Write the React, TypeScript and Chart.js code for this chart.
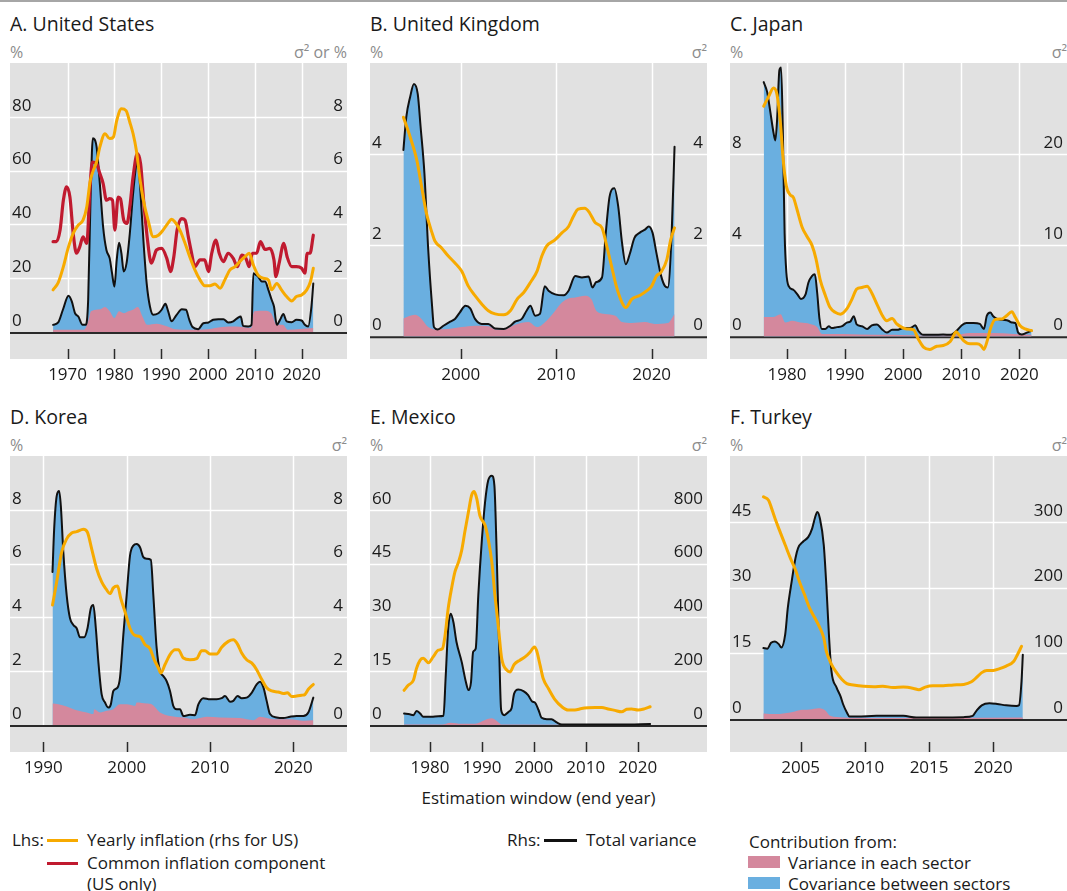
import React, { useEffect, useRef } from 'react';
import { Chart, registerables } from 'chart.js';

Chart.register(...registerables);

type Pt = [number, number];

// ---------- A. United States ----------
const usTotalVariance: Pt[] = [[1966.9,0.27],[1968,0.36],[1969,0.83],[1970.2,1.35],[1970.9,1.14],[1971.6,0.7],[1972.3,0.58],[1973.2,0.27],[1973.9,0.27],[1974.4,1.2],[1974.9,4.9],[1975.4,7.2],[1976.2,6.88],[1976.9,5.5],[1977.6,3.9],[1978.3,3.05],[1979,2.74],[1979.5,2.19],[1980,1.69],[1980.5,2.68],[1981,3.32],[1981.5,2.93],[1982,2.25],[1982.6,2.56],[1983.3,3.67],[1984,5.15],[1984.7,6.26],[1985,6.4],[1985.5,5.4],[1986.2,3.42],[1986.9,1.81],[1987.6,0.95],[1988.3,0.64],[1989.4,0.7],[1990.1,0.83],[1990.9,1.05],[1991.5,0.77],[1992.2,0.4],[1993.3,0.64],[1994.4,0.85],[1995.3,0.83],[1996,0.46],[1996.7,0.19],[1997.9,0.11],[1999,0.33],[2000.1,0.36],[2001.1,0.46],[2002.2,0.48],[2003.3,0.48],[2004.3,0.36],[2005.4,0.4],[2006.3,0.52],[2007,0.58],[2007.5,0.23],[2008.6,0.21],[2009.3,0.27],[2009.7,2.19],[2010,2.15],[2010.7,2.06],[2011.5,1.88],[2012.2,1.88],[2012.9,1.57],[2013.6,1.2],[2014.1,0.95],[2014.7,0.27],[2015.4,0.46],[2016.1,0.67],[2016.8,0.4],[2017.9,0.37],[2018.9,0.46],[2020,0.43],[2020.7,0.27],[2021.4,0.21],[2022.1,0.95],[2022.5,1.81]];
const usSectorVariance: Pt[] = [[1966.9,0.09],[1973.5,0.09],[1974.5,0.46],[1975,0.77],[1977,0.85],[1978,0.93],[1979,0.77],[1980,0.52],[1981,0.77],[1982,0.7],[1983,0.77],[1984,0.83],[1985,0.93],[1986,0.58],[1987,0.27],[1989,0.31],[1991,0.23],[1993,0.11],[1996,0.09],[2000,0.11],[2003,0.19],[2006,0.21],[2009.2,0.15],[2009.7,0.7],[2010,0.77],[2012,0.79],[2013.5,0.7],[2014.7,0.27],[2016,0.27],[2017,0.09],[2022.5,0.15]];
const usYearlyInflation: Pt[] = [[1966.9,1.57],[1968,1.84],[1969.1,2.43],[1970.1,3.11],[1971.2,3.67],[1972.3,3.98],[1973.3,4.16],[1974.1,4.65],[1974.8,5.58],[1975.5,6.01],[1976.2,6.32],[1976.9,6.88],[1978,7.37],[1979,7.19],[1979.8,7.25],[1980.5,7.86],[1981.5,8.3],[1982.5,8.23],[1983.3,7.8],[1984,7.37],[1984.7,6.75],[1985.5,5.64],[1986.2,4.9],[1987.2,4.16],[1988.3,3.54],[1989.4,3.6],[1990.4,3.79],[1991.5,4.06],[1992.2,4.19],[1992.9,4.1],[1994,3.79],[1995.1,3.3],[1996.1,2.8],[1997.2,2.31],[1998.3,1.94],[1999.3,1.72],[2000.4,1.72],[2001.5,1.79],[2002.6,1.63],[2003.6,1.94],[2004.7,2.31],[2005.8,2.43],[2006.8,2.62],[2007.9,2.8],[2008.8,2.93],[2009.7,2.49],[2010.7,2.12],[2011.8,2.0],[2012.9,1.94],[2013.6,1.57],[2014.7,1.81],[2015.7,1.57],[2016.8,1.32],[2017.9,1.16],[2018.9,1.32],[2020,1.38],[2021.1,1.57],[2021.9,1.88],[2022.5,2.37]];
const usCommonComponent: Pt[] = [[1966.9,33.6],[1967.6,33.6],[1968.4,37.9],[1969.1,49],[1969.8,54],[1970.5,50.2],[1971.2,36.7],[1971.9,29.3],[1972.6,31.7],[1973.3,35.4],[1974.1,33],[1974.8,54],[1975.3,63.2],[1976.2,62.6],[1976.9,58.9],[1977.6,55.2],[1978.3,49],[1979,49.6],[1979.6,49],[1980.1,37.9],[1980.8,50.2],[1981.3,49.6],[1982,41.6],[1982.7,40.4],[1983.3,46.5],[1984,57.7],[1984.9,66.3],[1985.6,62.6],[1986.3,47.8],[1987,35.4],[1987.9,25.6],[1989,30.5],[1990.1,31.1],[1991.2,27.4],[1992,22.5],[1992.7,28],[1993.4,37.9],[1994.4,42.2],[1995.1,41.6],[1995.8,35.4],[1996.5,29.3],[1997.2,24.3],[1998.3,26.8],[1999.3,26.8],[2000.1,22.5],[2000.8,29.3],[2001.7,34.2],[2002.4,29.3],[2003.3,26.2],[2004.3,29.3],[2005.4,27.4],[2006.3,24.3],[2007.2,28.6],[2008.1,27.4],[2008.8,24.3],[2009.5,29.3],[2010.4,29.3],[2011.2,33.6],[2012.2,30.7],[2013.2,31.1],[2014.1,26.8],[2014.5,20.6],[2015.2,25.6],[2016.2,33],[2016.9,28],[2017.9,24.3],[2018.9,24.3],[2020,23.7],[2020.7,21.9],[2021.2,29.3],[2021.8,29.3],[2022.5,36]];
const usYears = [1970, 1980, 1990, 2000, 2010, 2020];
const usLeftTicks = [0, 20, 40, 60, 80];
const usRightTicks = [0, 2, 4, 6, 8];

// ---------- B. United Kingdom ----------
const ukTotalVariance: Pt[] = [[1994,4.09],[1994.3,4.81],[1994.7,5.25],[1995.1,5.54],[1995.5,5.32],[1995.8,4.6],[1996.2,3.58],[1996.6,1.9],[1997,0.67],[1997.2,0.2],[1997.6,0.15],[1998.2,0.23],[1998.9,0.32],[1999.4,0.38],[1999.9,0.52],[2000.5,0.67],[2001,0.61],[2001.5,0.38],[2002.2,0.27],[2002.9,0.27],[2003.6,0.17],[2004.5,0.16],[2005.2,0.23],[2005.7,0.32],[2006.4,0.38],[2006.9,0.56],[2007.3,0.67],[2007.8,0.45],[2008.3,0.49],[2008.8,1.1],[2009.2,1.0],[2009.9,0.92],[2010.8,0.9],[2011.3,1.0],[2012,1.32],[2012.7,1.29],[2013.4,1.31],[2013.8,1.07],[2014.2,1.19],[2014.8,1.29],[2015.2,2.27],[2015.6,3.07],[2016.1,3.25],[2016.5,2.85],[2016.9,2.05],[2017.3,1.58],[2017.7,1.8],[2018.2,2.16],[2018.8,2.28],[2019.3,2.34],[2019.7,2.41],[2020.1,2.27],[2020.5,1.83],[2021,1.32],[2021.4,1.1],[2021.7,1.07],[2022.1,2.27],[2022.4,4.16]];
const ukSectorVariance: Pt[] = [[1994,0.39],[1995.2,0.47],[1995.9,0.38],[1996.6,0.2],[1997.3,0.15],[1998.7,0.16],[2000.1,0.2],[2001.5,0.23],[2002.9,0.22],[2003.6,0.15],[2004.5,0.14],[2005.2,0.2],[2005.7,0.25],[2007.1,0.31],[2008,0.2],[2009,0.34],[2009.9,0.56],[2010.6,0.74],[2011.3,0.83],[2012,0.85],[2013,0.89],[2013.7,0.81],[2014.2,0.56],[2015.1,0.49],[2016.2,0.45],[2016.9,0.31],[2017.9,0.29],[2019.3,0.31],[2020.3,0.27],[2021.7,0.29],[2022.4,0.49]];
const ukYearlyInflation: Pt[] = [[1994,4.81],[1994.7,4.38],[1995.4,3.87],[1995.9,3.29],[1996.4,2.71],[1997,2.27],[1997.3,2.09],[1998,1.94],[1998.7,1.76],[1999.4,1.61],[2000.1,1.43],[2000.8,1.1],[2001.5,0.89],[2002.2,0.71],[2002.9,0.56],[2003.6,0.49],[2004.5,0.47],[2005.2,0.56],[2005.9,0.81],[2006.6,0.96],[2007.3,1.18],[2008,1.43],[2008.5,1.76],[2009,1.98],[2009.9,2.12],[2010.6,2.27],[2011.3,2.41],[2011.8,2.63],[2012.3,2.79],[2013,2.81],[2013.5,2.71],[2014.1,2.49],[2014.8,2.38],[2015.3,1.98],[2015.8,1.54],[2016.3,1.1],[2016.9,0.74],[2017.3,0.63],[2017.9,0.81],[2018.8,0.9],[2019.5,1.0],[2020,1.1],[2020.5,1.32],[2021,1.41],[2021.6,1.69],[2022,2.12],[2022.4,2.38]];
const ukYears = [2000, 2010, 2020];
const ukLeftTicks = [0, 2, 4];
const ukRightTicks = [0, 2, 4];

// ---------- C. Japan ----------
const jpTotalVariance: Pt[] = [[1976,27.9],[1976.6,26.8],[1977.1,24.8],[1977.7,22.3],[1978,21.5],[1978.3,23.7],[1978.7,29.2],[1979,29.5],[1979.3,22.3],[1979.6,11.3],[1979.9,7.0],[1980.3,5.5],[1981.1,5.1],[1981.8,4.6],[1982.4,4.1],[1983.2,4.6],[1983.7,5.9],[1984.3,6.6],[1984.8,6.8],[1985.2,4.8],[1985.6,1.9],[1986,0.8],[1986.6,0.8],[1987.2,1.1],[1987.7,0.9],[1988.6,1.0],[1989.5,1.1],[1990.3,1.5],[1990.9,1.6],[1991.5,2.2],[1992,1.3],[1992.9,1.1],[1993.8,0.8],[1994.6,1.2],[1995.5,1.3],[1996.3,0.8],[1997.2,0.4],[1998.1,0.7],[1998.9,0.7],[2000.1,0.9],[2001.2,0.9],[2002.1,1.2],[2002.6,0.6],[2003.5,0.15],[2005.2,0.15],[2006.9,0.2],[2008.1,0.15],[2009.2,0.6],[2010.1,1.2],[2010.9,1.45],[2012.1,1.45],[2013.2,1.35],[2013.9,0.8],[2014.4,2.25],[2015,2.6],[2015.5,2.2],[2016.2,1.9],[2017.2,1.8],[2018.1,1.7],[2018.7,1.5],[2019.3,1.45],[2019.8,0.4],[2020.4,0.2],[2021.3,0.4],[2022.1,0.6]];
const jpSectorVariance: Pt[] = [[1976,2.1],[1977.7,2.1],[1978.9,2.4],[1979.7,1.5],[1980.9,1.7],[1982.3,1.5],[1984,1.35],[1985.2,1.0],[1986,0.25],[1989.7,0.25],[1992.6,0.2],[1998.3,0.15],[2003.5,0.07],[2009.2,0.15],[2011.5,0.36],[2015.5,0.36],[2019,0.25],[2022.1,0.15]];
const jpYearlyInflation: Pt[] = [[1976,10.1],[1976.8,10.5],[1977.7,10.9],[1978.3,10.6],[1978.9,9.3],[1979.3,7.9],[1979.9,6.6],[1980.6,6.2],[1981.1,6.1],[1981.7,5.6],[1982.6,4.8],[1983.4,4.4],[1984.3,4.0],[1985,3.4],[1985.7,2.5],[1986.6,1.8],[1987.4,1.27],[1988.3,1.05],[1989.2,0.97],[1990.3,1.2],[1991.2,1.63],[1992,2.07],[1992.9,2.14],[1993.8,2.2],[1994.6,1.9],[1995.5,1.4],[1996.3,0.97],[1997.2,0.68],[1998.1,0.78],[1998.9,0.54],[1999.8,0.39],[2000.6,0.32],[2001.8,0.28],[2002.6,-0.12],[2003.5,-0.48],[2004.6,-0.58],[2005.8,-0.44],[2006.9,-0.41],[2008.1,-0.23],[2008.7,0.03],[2009.1,0.2],[2009.5,0.1],[2010.4,-0.19],[2011.5,-0.33],[2012.7,-0.33],[2013.4,-0.41],[2013.9,-0.58],[2014.4,-0.26],[2015.1,0.39],[2015.8,0.73],[2017,0.76],[2017.8,0.9],[2018.7,1.08],[2019.3,0.83],[2020.1,0.47],[2021,0.32],[2022.1,0.25]];
const jpYears = [1980, 1990, 2000, 2010, 2020];
const jpLeftTicks = [0, 4, 8];
const jpRightTicks = [0, 10, 20];

// ---------- D. Korea ----------
const krTotalVariance: Pt[] = [[1991.1,5.69],[1991.3,7.29],[1991.6,8.51],[1991.9,8.7],[1992.1,8.15],[1992.4,6.43],[1992.8,4.83],[1993.2,3.97],[1993.6,3.72],[1994,3.6],[1994.4,3.26],[1994.9,3.26],[1995.3,3.6],[1995.7,4.34],[1996,4.46],[1996.3,3.6],[1996.6,2.37],[1997,1.14],[1997.4,0.84],[1997.8,0.65],[1998.1,0.77],[1998.4,1.27],[1998.9,1.39],[1999.2,1.76],[1999.6,3.35],[2000,4.83],[2000.4,6.3],[2000.8,6.67],[2001.2,6.73],[2001.6,6.61],[2002,6.24],[2002.4,6.18],[2002.9,6.14],[2003.2,4.83],[2003.6,2.86],[2004,2.0],[2004.4,1.82],[2004.8,1.63],[2005.2,1.27],[2005.6,0.71],[2006,0.59],[2006.4,0.59],[2006.8,0.34],[2007.6,0.38],[2008.2,0.37],[2008.6,0.77],[2009.2,1.0],[2010,0.96],[2010.8,0.96],[2011.4,1.0],[2011.8,1.08],[2012.4,0.87],[2012.8,0.9],[2013.3,1.08],[2013.8,1.0],[2014.4,1.02],[2015,1.2],[2015.6,1.51],[2016,1.61],[2016.4,1.41],[2016.8,0.9],[2017.2,0.41],[2018,0.28],[2018.8,0.26],[2019.6,0.31],[2020.4,0.34],[2021.2,0.34],[2021.8,0.47],[2022.4,1.02]];
const krSectorVariance: Pt[] = [[1991.1,0.8],[1991.8,0.77],[1992.8,0.69],[1994,0.55],[1995.2,0.47],[1996,0.41],[1996.1,0.59],[1996.8,0.47],[1997.6,0.53],[1998.4,0.59],[1999.2,0.77],[2000,0.77],[2001,0.71],[2001.2,0.84],[2002.4,0.8],[2003,0.77],[2004,0.47],[2005.2,0.34],[2006.8,0.28],[2008,0.22],[2009.6,0.31],[2011.2,0.28],[2013.6,0.26],[2015.2,0.18],[2016,0.31],[2017.6,0.22],[2019.6,0.22],[2021.2,0.16],[2022.4,0.18]];
const krYearlyInflation: Pt[] = [[1991.1,4.46],[1991.6,5.32],[1992.2,6.43],[1992.8,6.92],[1993.4,7.14],[1994,7.19],[1994.8,7.28],[1995.3,7.16],[1995.8,6.55],[1996.4,5.81],[1997,5.32],[1997.5,5.07],[1998,4.89],[1998.4,5.1],[1998.9,5.17],[1999.3,4.7],[1999.8,4.21],[2000.4,3.6],[2001,3.33],[2001.6,3.29],[2002.2,2.99],[2002.8,2.84],[2003.3,2.43],[2003.8,2.13],[2004.1,1.94],[2004.6,2.25],[2005.2,2.62],[2005.8,2.8],[2006.2,2.8],[2006.8,2.49],[2007.6,2.43],[2008.4,2.47],[2009,2.76],[2009.4,2.76],[2010,2.64],[2010.8,2.64],[2011.4,2.89],[2012.2,3.11],[2012.8,3.17],[2013.3,3.01],[2013.8,2.68],[2014.4,2.43],[2015,2.31],[2015.6,2.06],[2016.2,1.7],[2016.8,1.39],[2017.4,1.27],[2018.2,1.23],[2018.8,1.17],[2019.3,1.2],[2019.8,1.06],[2020.4,1.08],[2021,1.11],[2021.4,1.14],[2021.8,1.33],[2022.4,1.51]];
const krYears = [1990, 2000, 2010, 2020];
const krLeftTicks = [0, 2, 4, 6, 8];
const krRightTicks = [0, 2, 4, 6, 8];

// ---------- E. Mexico ----------
const mxTotalVariance: Pt[] = [[1975,43],[1976.1,40],[1976.8,37],[1977.4,52],[1978.1,43],[1978.7,31],[1980.3,31],[1981.6,33],[1982.6,35],[1983,173],[1983.5,359],[1984,414],[1984.5,383],[1985.1,309],[1986.1,235],[1986.9,161],[1987.4,130],[1987.9,161],[1988.3,272],[1988.8,284],[1989.3,482],[1990,692],[1990.6,828],[1991.2,909],[1991.9,927],[1992.4,890],[1992.8,668],[1993.3,297],[1993.7,56],[1994.3,37],[1995.1,49],[1995.7,62],[1996.2,117],[1997,132],[1998,126],[1998.9,111],[1999.7,87],[2000.2,84],[2000.9,56],[2001.5,27],[2002.5,22],[2003.4,22],[2004.4,10],[2005.4,2],[2010.5,2],[2016.9,2],[2022.4,4]];
const mxSectorVariance: Pt[] = [[1975,2],[1982.3,2],[1983.9,9],[1986.1,5],[1988.7,5],[1990.6,19],[1991.9,25],[1993.2,10],[1993.8,2],[2022.4,1]];
const mxYearlyInflation: Pt[] = [[1975,9.7],[1975.8,11.1],[1976.8,12.5],[1977.4,15.8],[1978.1,18.1],[1978.7,18.6],[1979.7,17.4],[1980.6,19],[1981.6,20.9],[1982.4,21.3],[1982.9,25],[1983.5,32.5],[1984.2,38.5],[1984.8,42.7],[1985.5,45.5],[1986.1,48.7],[1986.7,53.8],[1987.4,59.4],[1988,64],[1988.5,65.1],[1989,63.1],[1989.6,58.4],[1990.6,55.7],[1991.2,51.9],[1991.9,45.5],[1992.5,36.2],[1993.2,26.9],[1993.8,18.6],[1994.8,15.3],[1995.4,14.8],[1996.2,16.9],[1997.3,18.1],[1998.3,19],[1999.3,20.4],[2000.1,21.8],[2000.5,20.9],[2001.2,16.7],[2001.8,13],[2002.8,10.2],[2004.1,7],[2005.4,5.1],[2006.6,4.2],[2007.9,4.2],[2009.2,4.6],[2010.5,4.8],[2011.8,4.9],[2013.1,4.9],[2014.3,4.5],[2015.6,4.1],[2016.9,3.7],[2017.9,4.4],[2018.8,4.5],[2020.1,4.2],[2021.4,4.6],[2022.4,5.1]];
const mxYears = [1980, 1990, 2000, 2010, 2020];
const mxLeftTicks = [0, 15, 30, 45, 60];
const mxRightTicks = [0, 200, 400, 600, 800];

// ---------- F. Turkey ----------
const trTotalVariance: Pt[] = [[2002.1,108],[2002.4,107],[2002.7,116],[2003,118],[2003.3,114],[2003.5,109],[2003.8,129],[2004,169],[2004.3,209],[2004.6,245],[2004.8,260],[2005.2,270],[2005.6,277],[2005.9,290],[2006.1,305],[2006.3,315],[2006.5,305],[2006.8,265],[2007,204],[2007.2,129],[2007.4,73],[2007.8,48],[2008.1,35],[2008.3,23],[2008.6,10],[2008.8,4],[2009.4,4],[2010.9,5],[2013,5],[2014,2.5],[2016.1,2.5],[2017.7,3],[2018.4,5],[2018.7,13],[2019.1,21],[2019.7,24],[2020.3,23],[2021,21],[2021.8,20],[2022,21],[2022.2,58],[2022.3,98]];
const trSectorVariance: Pt[] = [[2002.1,8.6],[2003.1,7.6],[2004.2,10],[2004.9,13.6],[2005.7,14.6],[2006.4,16.6],[2006.9,13.6],[2007.3,5],[2008.3,2.5],[2009.6,1.5],[2022.3,2.5]];
const trYearlyInflation: Pt[] = [[2002.1,50.7],[2002.5,49.9],[2002.7,48.4],[2003,45.8],[2003.4,42.7],[2003.8,39.7],[2004.2,36.7],[2004.6,34],[2004.9,31.4],[2005.3,28.4],[2005.7,25.3],[2006.1,23.1],[2006.5,20.8],[2006.8,18.5],[2007,15.5],[2007.4,12.5],[2007.8,10.6],[2008.2,9.1],[2008.6,8.1],[2009.1,7.8],[2009.9,7.5],[2010.7,7.4],[2011.4,7.5],[2012.2,7.2],[2013,7.3],[2013.8,7.0],[2014.2,6.7],[2014.7,7.3],[2015.3,7.6],[2016.1,7.6],[2016.9,7.8],[2017.7,7.9],[2018.3,8.5],[2018.7,9.5],[2019.1,10.6],[2019.5,11.1],[2020,11.1],[2020.5,11.5],[2021,12.1],[2021.6,13.2],[2021.9,14.8],[2022.2,16.6]];
const trYears = [2005, 2010, 2015, 2020];
const trLeftTicks = [0, 15, 30, 45];
const trRightTicks = [0, 100, 200, 300];

// ---------- styling ----------
const FONT = '"Open Sans", "Noto Sans", sans-serif';
const ORANGE = '#F7AA00';
const RED = '#C01A2F';
const BLUE = '#6AAFE0';
const PINK = '#D4889D';
const PANEL_BG = '#E1E1E1';
const X_AXIS_H = 34;
const LEGEND_SIZE = 17;

interface PanelDef {
  title: string;
  rightUnit: string;
  left: number; top: number; w: number; h: number;
  xMin: number; xMax: number; years: number[];
  yL: [number, number]; yR: [number, number];
  leftTicks: number[]; rightTicks: number[];
  total: Pt[]; sector: Pt[]; inflation: Pt[]; inflationAxis: 'yL' | 'yR';
  common?: Pt[];
}

const panels: PanelDef[] = [
  { title: 'A. United States', rightUnit: 'σ² or %', left: 10, top: 63, w: 337, h: 296, xMin: 1957.7, xMax: 2029.7, years: usYears, yL: [-10, 100], yR: [-1, 10], leftTicks: usLeftTicks, rightTicks: usRightTicks, total: usTotalVariance, sector: usSectorVariance, inflation: usYearlyInflation, inflationAxis: 'yR', common: usCommonComponent },
  { title: 'B. United Kingdom', rightUnit: 'σ²', left: 370, top: 63, w: 337, h: 296, xMin: 1990.5, xMax: 2025.8, years: ukYears, yL: [-0.5, 6], yR: [-0.5, 6], leftTicks: ukLeftTicks, rightTicks: ukRightTicks, total: ukTotalVariance, sector: ukSectorVariance, inflation: ukYearlyInflation, inflationAxis: 'yL' },
  { title: 'C. Japan', rightUnit: 'σ²', left: 730, top: 63, w: 337, h: 296, xMin: 1970.2, xMax: 2028.2, years: jpYears, yL: [-1, 12], yR: [-2.5, 30], leftTicks: jpLeftTicks, rightTicks: jpRightTicks, total: jpTotalVariance, sector: jpSectorVariance, inflation: jpYearlyInflation, inflationAxis: 'yL' },
  { title: 'D. Korea', rightUnit: 'σ²', left: 10, top: 456, w: 337, h: 296, xMin: 1986, xMax: 2026.44, years: krYears, yL: [-1, 10], yR: [-1, 10], leftTicks: krLeftTicks, rightTicks: krRightTicks, total: krTotalVariance, sector: krSectorVariance, inflation: krYearlyInflation, inflationAxis: 'yL' },
  { title: 'E. Mexico', rightUnit: 'σ²', left: 370, top: 456, w: 337, h: 296, xMin: 1968.44, xMax: 2033.35, years: mxYears, yL: [-7.5, 75], yR: [-100, 1000], leftTicks: mxLeftTicks, rightTicks: mxRightTicks, total: mxTotalVariance, sector: mxSectorVariance, inflation: mxYearlyInflation, inflationAxis: 'yL' },
  { title: 'F. Turkey', rightUnit: 'σ²', left: 730, top: 456, w: 337, h: 296, xMin: 1999.5, xMax: 2025.74, years: trYears, yL: [-7.5, 60], yR: [-50, 400], leftTicks: trLeftTicks, rightTicks: trRightTicks, total: trTotalVariance, sector: trSectorVariance, inflation: trYearlyInflation, inflationAxis: 'yL' },
];

const toXY = (arr: Pt[]) => arr.map(([x, y]) => ({ x, y }));

const panelBgPlugin = {
  id: 'panelBg',
  beforeDraw(chart: any) {
    const { ctx, chartArea: a, scales } = chart;
    const yL = scales.yL, x = scales.x;
    ctx.save();
    ctx.fillStyle = PANEL_BG;
    ctx.fillRect(a.left, a.top, a.right - a.left, a.bottom - a.top);
    const y0 = yL.getPixelForValue(0);
    ctx.strokeStyle = '#FFFFFF';
    ctx.lineWidth = 1.5;
    yL.ticks.forEach((t: any) => {
      if (t.value === 0) return;
      const y = Math.round(yL.getPixelForValue(t.value)) + 0.5;
      ctx.beginPath(); ctx.moveTo(a.left, y); ctx.lineTo(a.right, y); ctx.stroke();
    });
    x.ticks.forEach((t: any) => {
      const px = Math.round(x.getPixelForValue(t.value)) + 0.5;
      ctx.beginPath(); ctx.moveTo(px, a.top); ctx.lineTo(px, y0); ctx.stroke();
    });
    ctx.restore();
  },
  beforeDatasetsDraw(chart: any) {
    const { ctx, chartArea: a, scales } = chart;
    const yL = scales.yL, x = scales.x;
    const y0 = yL.getPixelForValue(0);
    ctx.save();
    ctx.strokeStyle = '#2a2a2a';
    ctx.lineWidth = 2;
    ctx.beginPath(); ctx.moveTo(a.left, y0 + 1); ctx.lineTo(a.right, y0 + 1); ctx.stroke();
    ctx.lineWidth = 1.5;
    x.ticks.forEach((t: any) => {
      const px = Math.round(x.getPixelForValue(t.value)) + 0.5;
      ctx.beginPath(); ctx.moveTo(px, a.bottom - 10); ctx.lineTo(px, a.bottom); ctx.stroke();
    });
    ctx.restore();
  },
};

function zeroPad(scale: any) {
  scale.paddingLeft = 0; scale.paddingRight = 0; scale.paddingTop = 0; scale.paddingBottom = 0;
}

function PanelChart({ def }: { def: PanelDef }) {
  const ref = useRef<HTMLCanvasElement>(null);
  useEffect(() => {
    const canvas = ref.current;
    if (!canvas) return;
    const lineBase = { pointRadius: 0, pointHoverRadius: 0, fill: false, cubicInterpolationMode: 'monotone' as const, borderJoinStyle: 'round' as const, borderCapStyle: 'round' as const };
    const datasets: any[] = [
      { ...lineBase, label: 'Yearly inflation', data: toXY(def.inflation), yAxisID: def.inflationAxis, borderColor: ORANGE, borderWidth: 3, order: 0 },
    ];
    if (def.common) {
      datasets.push({ ...lineBase, label: 'Common inflation component', data: toXY(def.common), yAxisID: 'yL', borderColor: RED, borderWidth: 3.2, order: 1 });
    }
    datasets.push(
      { ...lineBase, label: 'Total variance', data: toXY(def.total), yAxisID: 'yR', borderColor: '#111111', borderWidth: 2, order: 2 },
      { ...lineBase, label: 'Variance in each sector', data: toXY(def.sector), yAxisID: 'yR', borderWidth: 0, borderColor: 'rgba(0,0,0,0)', backgroundColor: PINK, fill: 'origin', order: 3 },
      { ...lineBase, label: 'Covariance between sectors', data: toXY(def.total), yAxisID: 'yR', borderWidth: 0, borderColor: 'rgba(0,0,0,0)', backgroundColor: BLUE, fill: 'origin', order: 4 },
    );
    const tickFont = { family: FONT, size: 17 };
    const yCommon = (pos: 'left' | 'right', range: [number, number], ticks: number[]) => ({
      type: 'linear', position: pos, min: range[0], max: range[1],
      afterBuildTicks: (s: any) => { s.ticks = ticks.map((v) => ({ value: v })); },
      afterFit: (s: any) => { s.width = 0; zeroPad(s); },
      grid: { display: false, drawTicks: false },
      border: { display: false },
      // mirrored labels: left axis draws at right+padding, right axis at left+padding (so negative to move inward)
      ticks: { mirror: true, padding: pos === 'left' ? 2 : -4, labelOffset: -11, font: tickFont, color: '#1a1a1a', callback: (v: any) => String(v), autoSkip: false },
    });
    const chart = new Chart(canvas, {
      type: 'line',
      data: { datasets },
      options: {
        animation: false,
        responsive: false,
        maintainAspectRatio: false,
        devicePixelRatio: 1,
        layout: { padding: 0 },
        events: [],
        plugins: { legend: { display: false }, tooltip: { enabled: false }, title: { display: false } },
        scales: {
          x: {
            type: 'linear', min: def.xMin, max: def.xMax,
            afterBuildTicks: (s: any) => { s.ticks = def.years.map((v) => ({ value: v })); },
            afterFit: (s: any) => { s.height = X_AXIS_H; zeroPad(s); },
            grid: { display: false, drawTicks: false },
            border: { display: false },
            ticks: { font: tickFont, color: '#1a1a1a', padding: 6, maxRotation: 0, autoSkip: false, callback: (v: any) => String(v) },
          },
          yL: yCommon('left', def.yL, def.leftTicks),
          yR: yCommon('right', def.yR, def.rightTicks),
        } as any,
      },
      plugins: [panelBgPlugin],
    } as any);
    return () => chart.destroy();
  }, [def]);
  return (
    <canvas ref={ref} width={def.w} height={def.h + X_AXIS_H}
      style={{ position: 'absolute', left: def.left, top: def.top, width: def.w, height: def.h + X_AXIS_H }} />
  );
}

const abs = (left: number, centerY: number, size: number, extra: React.CSSProperties = {}): React.CSSProperties => ({
  position: 'absolute', left, top: centerY - 12, height: 24, lineHeight: '24px', fontSize: size, whiteSpace: 'nowrap', ...extra,
});

export default function App() {
  return (
    <div style={{ position: 'absolute', left: 0, top: 0, width: 1067, height: 891, background: '#fff', fontFamily: FONT, color: '#1a1a1a', overflow: 'hidden' }}>
      <div style={{ position: 'absolute', left: 0, top: 0, width: 1067, height: 2, background: '#a6a6a6' }} />
      {panels.map((p) => (
        <React.Fragment key={p.title}>
          <div style={abs(p.left, p.top - 39, 19.5)}>{p.title}</div>
          <div style={abs(p.left, p.top - 11, 16, { color: '#8c8c8c' })}>%</div>
          <div style={{ ...abs(0, p.top - 11, 16, { color: '#8c8c8c' }), left: undefined, right: 1067 - (p.left + p.w), textAlign: 'right' }}>{p.rightUnit}</div>
          <PanelChart def={p} />
        </React.Fragment>
      ))}
      <div style={{ ...abs(0, 798, 17), left: 370, width: 337, textAlign: 'center' }}>Estimation window (end year)</div>

      {/* legend */}
      <div style={abs(12, 840, LEGEND_SIZE)}>Lhs:</div>
      <div style={{ position: 'absolute', left: 47, top: 838.5, width: 31, height: 3, background: ORANGE }} />
      <div style={abs(87, 840, LEGEND_SIZE)}>Yearly inflation (rhs for US)</div>
      <div style={{ position: 'absolute', left: 47, top: 861.5, width: 31, height: 3, background: RED }} />
      <div style={abs(87, 862.5, LEGEND_SIZE)}>Common inflation component</div>
      <div style={abs(87, 883.5, LEGEND_SIZE)}>(US only)</div>

      <div style={abs(507, 840, LEGEND_SIZE)}>Rhs:</div>
      <div style={{ position: 'absolute', left: 544, top: 839, width: 33, height: 2.5, background: '#111' }} />
      <div style={abs(586, 840, LEGEND_SIZE)}>Total variance</div>

      <div style={abs(749, 841.5, LEGEND_SIZE)}>Contribution from:</div>
      <div style={{ position: 'absolute', left: 748, top: 856, width: 32, height: 12, background: PINK }} />
      <div style={abs(788, 862.5, LEGEND_SIZE)}>Variance in each sector</div>
      <div style={{ position: 'absolute', left: 748, top: 877, width: 32, height: 12, background: BLUE }} />
      <div style={abs(788, 884, LEGEND_SIZE)}>Covariance between sectors</div>
    </div>
  );
}
